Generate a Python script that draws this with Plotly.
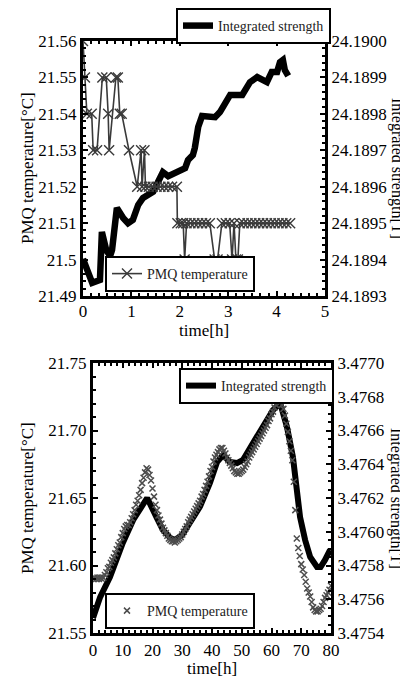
import plotly.graph_objects as go

# ---------------- top panel data ----------------
t_temp_top = [0.00, 0.04, 0.08, 0.18, 0.21, 0.29, 0.40, 0.48, 0.52, 0.54, 0.68, 0.72,
              0.76, 0.80, 0.95, 1.12, 1.20, 1.22, 1.27, 1.29, 1.36, 1.44, 1.52, 1.60,
              1.68, 1.76, 1.84, 1.94, 1.95, 2.02, 2.07, 2.10, 2.14, 2.22, 2.30, 2.38,
              2.46, 2.54, 2.62, 2.72, 2.78, 2.87, 2.95, 3.03, 3.08, 3.12, 3.16, 3.20,
              3.24, 3.32, 3.40, 3.48, 3.56, 3.64, 3.72, 3.80, 3.88, 3.96, 4.04, 4.12,
              4.20, 4.28]
temp_top = [21.56, 21.55, 21.54, 21.54, 21.53, 21.53, 21.55, 21.55, 21.54, 21.53, 21.55, 21.55,
            21.54, 21.54, 21.53, 21.52, 21.53, 21.52, 21.53, 21.52, 21.52, 21.52, 21.52, 21.52,
            21.52, 21.52, 21.52, 21.52, 21.51, 21.51, 21.51, 21.50, 21.51, 21.51, 21.51, 21.51,
            21.51, 21.51, 21.51, 21.50, 21.50, 21.51, 21.51, 21.51, 21.50, 21.51, 21.50, 21.50,
            21.51, 21.51, 21.51, 21.51, 21.51, 21.51, 21.51, 21.51, 21.51, 21.51, 21.51, 21.51,
            21.51, 21.51]

t_str_top = [0.00, 0.19, 0.35, 0.39, 0.48, 0.56, 0.60, 0.70, 0.83, 0.93, 1.03, 1.14,
             1.24, 1.45, 1.55, 1.65, 1.76, 1.90, 2.00, 2.11, 2.17, 2.27, 2.31, 2.38,
             2.46, 2.73, 2.83, 2.93, 3.04, 3.29, 3.39, 3.45, 3.60, 3.70, 3.80, 3.90,
             4.01, 4.07, 4.13, 4.17, 4.24]
str_top = [24.189402, 24.189336, 24.189344, 24.189476, 24.189426, 24.189410, 24.189426,
           24.189542, 24.189514, 24.189500, 24.189509, 24.189550, 24.189569, 24.189586,
           24.189613, 24.189640, 24.189629, 24.189638, 24.189646, 24.189651, 24.189673,
           24.189687, 24.189706, 24.189764, 24.189794, 24.189791, 24.189805, 24.189824,
           24.189852, 24.189852, 24.189871, 24.189887, 24.189901, 24.189896, 24.189887,
           24.189915, 24.189915, 24.189942, 24.189948, 24.189920, 24.189904]

top_left_ticks = [21.49, 21.50, 21.51, 21.52, 21.53, 21.54, 21.55, 21.56]
top_left_text = ["21.49", "21.5", "21.51", "21.52", "21.53", "21.54", "21.55", "21.56"]
top_right_ticks = [24.1893, 24.1894, 24.1895, 24.1896, 24.1897, 24.1898, 24.1899, 24.1900]
top_right_text = ["24.1893", "24.1894", "24.1895", "24.1896", "24.1897", "24.1898", "24.1899", "24.1900"]

# ---------------- bottom panel data ----------------
t_temp_bot = [0.0, 0.5, 1.0, 1.5, 2.0, 2.5, 3.0, 3.5, 4.0, 4.5, 5.0, 5.5, 6.0, 6.5, 7.0, 7.5,
              8.0, 8.5, 9.0, 9.5, 10.0, 10.5, 11.0, 11.5, 12.0, 12.5, 13.0, 13.5, 14.0, 14.5,
              15.0, 15.5, 16.0, 16.5, 17.0, 17.5, 18.0, 18.5, 19.0, 19.5, 20.0, 20.5, 21.0,
              21.5, 22.0, 22.5, 23.0, 23.5, 24.0, 24.5, 25.0, 25.5, 26.0, 26.5, 27.0, 27.5,
              28.0, 28.5, 29.0, 29.5, 30.0, 30.5, 31.0, 31.5, 32.0, 32.5, 33.0, 33.5, 34.0,
              34.5, 35.0, 35.5, 36.0, 36.5, 37.0, 37.5, 38.0, 38.5, 39.0, 39.5, 40.0, 40.5,
              41.0, 41.5, 42.0, 42.5, 43.0, 43.5, 44.0, 44.5, 45.0, 45.5, 46.0, 46.5, 47.0,
              47.5, 48.0, 48.5, 49.0, 49.5, 50.0, 50.5, 51.0, 51.5, 52.0, 52.5, 53.0, 53.5,
              54.0, 54.5, 55.0, 55.5, 56.0, 56.5, 57.0, 57.5, 58.0, 58.5, 59.0, 59.5, 60.0,
              60.5, 61.0, 61.5, 62.0, 62.5, 63.0, 63.5, 64.0, 64.5, 65.0, 65.5, 66.0, 66.5,
              67.0, 67.5, 68.0, 68.5, 69.0, 69.5, 70.0, 70.5, 71.0, 71.5, 72.0, 72.5, 73.0,
              73.5, 74.0, 74.5, 75.0, 75.5, 76.0, 76.5, 77.0, 77.5, 78.0, 78.5, 79.0, 79.5,
              80.0]
temp_bot = [21.590, 21.591, 21.590, 21.591, 21.590, 21.591, 21.590, 21.591, 21.593, 21.595,
            21.598, 21.599, 21.602, 21.604, 21.606, 21.609, 21.612, 21.615, 21.617, 21.621,
            21.624, 21.627, 21.629, 21.630, 21.630, 21.632, 21.635, 21.638, 21.641, 21.645,
            21.648, 21.652, 21.656, 21.661, 21.665, 21.669, 21.672, 21.671, 21.667, 21.663,
            21.657, 21.651, 21.645, 21.641, 21.637, 21.634, 21.631, 21.628, 21.626, 21.624,
            21.622, 21.620, 21.619, 21.618, 21.618, 21.617, 21.618, 21.619, 21.620, 21.621,
            21.623, 21.625, 21.627, 21.629, 21.632, 21.634, 21.636, 21.638, 21.640, 21.642,
            21.644, 21.646, 21.648, 21.651, 21.653, 21.656, 21.659, 21.662, 21.666, 21.670,
            21.673, 21.677, 21.680, 21.682, 21.684, 21.686, 21.687, 21.687, 21.685, 21.683,
            21.680, 21.678, 21.676, 21.674, 21.672, 21.670, 21.669, 21.668, 21.668, 21.669,
            21.670, 21.671, 21.673, 21.675, 21.677, 21.680, 21.682, 21.684, 21.686, 21.688,
            21.690, 21.692, 21.694, 21.696, 21.698, 21.700, 21.702, 21.704, 21.707, 21.709,
            21.712, 21.714, 21.717, 21.719, 21.722, 21.723, 21.721, 21.719, 21.716, 21.711,
            21.705, 21.699, 21.692, 21.685, 21.678, 21.662, 21.641, 21.620, 21.613, 21.607,
            21.601, 21.597, 21.593, 21.588, 21.583, 21.580, 21.577, 21.573, 21.569, 21.567,
            21.566, 21.566, 21.567, 21.568, 21.570, 21.573, 21.576, 21.578, 21.580, 21.582,
            21.585]

t_str_bot = [0.0, 2.4, 5.7, 10.0, 13.5, 16.8, 18.2, 21.5, 23.5, 26.0, 27.5, 30.0, 33.0,
             36.0, 39.3, 41.7, 43.7, 46.0, 48.4, 50.4, 53.8, 57.0, 60.5, 62.9, 65.2, 67.2,
             69.0, 69.6, 71.3, 73.0, 75.3, 76.5, 78.0, 79.7]
str_bot = [3.475489, 3.475613, 3.475732, 3.475933, 3.476070, 3.476170, 3.476200, 3.476081,
           3.476010, 3.475963, 3.475951, 3.475981, 3.476058, 3.476150, 3.476289, 3.476413,
           3.476455, 3.476413, 3.476407, 3.476425, 3.476526, 3.476621, 3.476721, 3.476763,
           3.476621, 3.476443, 3.476206, 3.476087, 3.475951, 3.475850, 3.475791, 3.475791,
           3.475833, 3.475892]

bot_left_ticks = [21.55, 21.60, 21.65, 21.70, 21.75]
bot_left_text = ["21.55", "21.60", "21.65", "21.70", "21.75"]
bot_right_ticks = [3.4754, 3.4756, 3.4758, 3.4760, 3.4762, 3.4764, 3.4766, 3.4768, 3.4770]
bot_right_text = ["3.4754", "3.4756", "3.4758", "3.4760", "3.4762", "3.4764", "3.4766", "3.4768", "3.4770"]

# ---------------- figure ----------------
# the page body has an 8px margin, so the figure is 8px smaller and
# all screen-pixel positions below are shifted by that offset
OFF = 8
W, H = 408 - OFF, 680 - OFF
FONT = "Liberation Serif"
TICKF = dict(family=FONT, size=17, color="black")

def px_x(p):
    return (p - OFF) / W

def px_y(p):
    return 1 - (p - OFF) / H

fig = go.Figure()

# top panel
fig.add_trace(go.Scatter(x=t_str_top, y=str_top, xaxis="x", yaxis="y", mode="lines",
                         line=dict(color="black", width=6.5), name="Integrated strength",
                         legend="legend", showlegend=True))
fig.add_trace(go.Scatter(x=t_temp_top, y=temp_top, xaxis="x", yaxis="y2", mode="lines+markers",
                         line=dict(color="#3a3a3a", width=1.6),
                         marker=dict(symbol="x-thin", size=10, color="#3a3a3a",
                                     line=dict(width=1.4, color="#3a3a3a")),
                         name="PMQ temperature", legend="legend2", showlegend=True))
# bottom panel
fig.add_trace(go.Scatter(x=t_str_bot, y=str_bot, xaxis="x2", yaxis="y3", mode="lines",
                         line=dict(color="black", width=6), name="Integrated strength",
                         legend="legend3", showlegend=True))
fig.add_trace(go.Scatter(x=t_temp_bot, y=temp_bot, xaxis="x2", yaxis="y4", mode="markers",
                         marker=dict(symbol="x-thin", size=6, color="#4d4d4d",
                                     line=dict(width=1.5, color="#4d4d4d")),
                         name="PMQ temperature", legend="legend4", showlegend=True))

axis_common = dict(showline=True, linecolor="black", linewidth=3, ticks="inside",
                   ticklen=5, tickwidth=2, tickcolor="black", showgrid=False,
                   zeroline=False, tickfont=TICKF, automargin=False)

top_dom = [px_y(296), px_y(41)]
bot_dom = [px_y(633), px_y(363)]

fig.update_layout(
    width=W, height=H, autosize=False, showlegend=True,
    margin=dict(l=0, r=0, t=0, b=0, autoexpand=False),
    paper_bgcolor="white", plot_bgcolor="white",
    xaxis=dict(domain=[px_x(83), px_x(325)], anchor="y", range=[0, 5], dtick=1, tick0=0,
               mirror="ticks", ticklabelstandoff=-2,
               minor=dict(dtick=1 / 6, ticks="inside", ticklen=3,
                          tickwidth=2, tickcolor="black"),
               **axis_common),
    yaxis=dict(domain=top_dom, anchor="x", side="right", range=[24.1893, 24.1900],
               tickmode="array", tickvals=top_right_ticks, ticktext=top_right_text,
               minor=dict(dtick=0.00002, tick0=24.1893, ticks="inside", ticklen=3,
                          tickwidth=2, tickcolor="black"),
               **axis_common),
    yaxis2=dict(domain=top_dom, anchor="x", overlaying="y", side="left", range=[21.49, 21.56],
                tickmode="array", tickvals=top_left_ticks, ticktext=top_left_text,
                minor=dict(dtick=0.002, tick0=21.49, ticks="inside", ticklen=3,
                           tickwidth=2, tickcolor="black"),
                **axis_common),
    xaxis2=dict(domain=[px_x(93), px_x(331)], anchor="y3", range=[0, 80], dtick=10, tick0=0,
                mirror="ticks",
                minor=dict(dtick=2, ticks="inside", ticklen=3,
                           tickwidth=2, tickcolor="black"),
                **axis_common),
    yaxis3=dict(domain=bot_dom, anchor="x2", side="right", range=[3.4754, 3.4770],
                tickmode="array", tickvals=bot_right_ticks, ticktext=bot_right_text,
                minor=dict(dtick=0.00005, tick0=3.4754, ticks="inside", ticklen=3,
                           tickwidth=2, tickcolor="black"),
                **axis_common),
    yaxis4=dict(domain=bot_dom, anchor="x2", overlaying="y3", side="left", range=[21.55, 21.75],
                tickmode="array", tickvals=bot_left_ticks, ticktext=bot_left_text,
                minor=dict(dtick=0.01, tick0=21.55, ticks="inside", ticklen=3,
                           tickwidth=2, tickcolor="black"),
                **axis_common),
)

leg_common = dict(bgcolor="white", bordercolor="black", borderwidth=2,
                  font=dict(family=FONT, size=14, color="#222222"), itemwidth=30,
                  xref="container", yref="container", visible=True)
fig.update_layout(
    legend=dict(x=px_x(331), xanchor="right", y=px_y(8), yanchor="top", **leg_common),
    legend2=dict(x=px_x(105), xanchor="left", y=px_y(292), yanchor="bottom", **leg_common),
    legend3=dict(x=px_x(334), xanchor="right", y=px_y(368), yanchor="top", **leg_common),
    legend4=dict(x=px_x(105), xanchor="left", y=px_y(629), yanchor="bottom", **leg_common),
)

TITLEF = dict(family=FONT, size=17, color="black")
annots = [
    dict(text="PMQ temperature[°C]", x=px_x(27), y=px_y(168), textangle=-90, yanchor="middle"),
    dict(text="Integrated strength[T]", x=px_x(397), y=px_y(168), textangle=90, yanchor="middle",
         font=dict(family=FONT, size=16, color="black")),
    dict(text="time[h]", x=px_x(204), y=px_y(330), textangle=0, yanchor="middle"),
    dict(text="PMQ temperature[°C]", x=px_x(27), y=px_y(498), textangle=-90, yanchor="middle"),
    dict(text="Integrated strength[T]", x=px_x(396), y=px_y(498), textangle=90, yanchor="middle",
         font=dict(family=FONT, size=16, color="black")),
    dict(text="time[h]", x=px_x(212), y=px_y(680), textangle=0, yanchor="bottom"),
]
for a in annots:
    a.setdefault("font", TITLEF)
    fig.add_annotation(xref="paper", yref="paper", xanchor="center",
                       showarrow=False, **a)

fig.write_html("out.html")
